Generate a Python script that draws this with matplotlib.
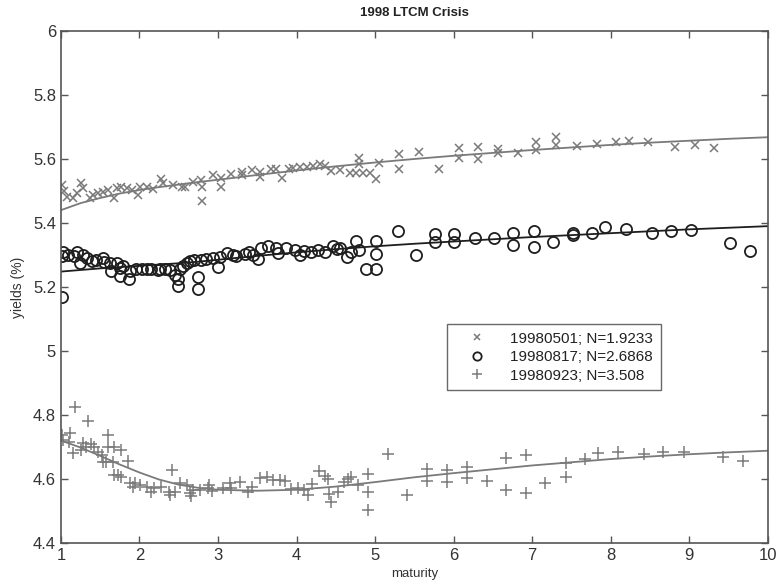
import matplotlib
matplotlib.use("Agg")
import matplotlib.pyplot as plt
from matplotlib.ticker import FormatStrFormatter, FixedLocator
import numpy as np

plt.rcParams['font.family'] = ['Liberation Sans', 'DejaVu Sans']

# observed yields (maturity, yield %)
pts_0501 = [
    (1.02, 5.519), (1.04, 5.500), (1.08, 5.482), (1.16, 5.477), (1.21, 5.493), (1.26, 5.526),
    (1.28, 5.508), (1.37, 5.477), (1.41, 5.488), (1.47, 5.493), (1.54, 5.498), (1.60, 5.503),
    (1.67, 5.477), (1.71, 5.508), (1.77, 5.513), (1.84, 5.508), (1.90, 5.503), (1.98, 5.488),
    (2.01, 5.513), (2.09, 5.513), (2.17, 5.505), (2.28, 5.536), (2.30, 5.524), (2.43, 5.519),
    (2.54, 5.513), (2.58, 5.513), (2.68, 5.529), (2.79, 5.534), (2.80, 5.513), (2.80, 5.469),
    (2.94, 5.550), (3.04, 5.539), (3.04, 5.513), (3.17, 5.553), (3.30, 5.560), (3.30, 5.550),
    (3.43, 5.565), (3.53, 5.544), (3.54, 5.560), (3.68, 5.570), (3.74, 5.568), (3.81, 5.539),
    (3.91, 5.570), (3.96, 5.571), (4.04, 5.574), (4.13, 5.574), (4.21, 5.577), (4.30, 5.584),
    (4.36, 5.579), (4.44, 5.563), (4.55, 5.565), (4.68, 5.555), (4.76, 5.555), (4.80, 5.602),
    (4.80, 5.583), (4.85, 5.555), (4.93, 5.555), (5.01, 5.536), (5.05, 5.586), (5.31, 5.615),
    (5.31, 5.570), (5.56, 5.622), (5.81, 5.570), (6.07, 5.633), (6.07, 5.602), (6.31, 5.636),
    (6.31, 5.600), (6.56, 5.630), (6.56, 5.618), (6.82, 5.620), (7.05, 5.653), (7.05, 5.628),
    (7.31, 5.669), (7.31, 5.643), (7.57, 5.641), (7.82, 5.646), (8.07, 5.653), (8.23, 5.655),
    (8.48, 5.653), (8.82, 5.638), (9.07, 5.645), (9.32, 5.634),
]
pts_0817 = [
    (1.01, 5.167), (1.02, 5.298), (1.03, 5.308), (1.09, 5.301), (1.17, 5.296), (1.20, 5.308),
    (1.24, 5.275), (1.28, 5.301), (1.33, 5.290), (1.39, 5.280), (1.45, 5.283), (1.53, 5.290),
    (1.55, 5.277), (1.62, 5.275), (1.64, 5.249), (1.71, 5.275), (1.75, 5.260), (1.75, 5.234),
    (1.79, 5.267), (1.87, 5.226), (1.88, 5.249), (1.95, 5.257), (2.03, 5.257), (2.09, 5.257),
    (2.15, 5.255), (2.24, 5.252), (2.26, 5.257), (2.32, 5.257), (2.39, 5.252), (2.45, 5.236),
    (2.49, 5.226), (2.49, 5.203), (2.51, 5.255), (2.56, 5.265), (2.60, 5.275), (2.64, 5.280),
    (2.70, 5.283), (2.75, 5.232), (2.75, 5.193), (2.79, 5.283), (2.85, 5.288), (2.94, 5.291),
    (3.00, 5.263), (3.03, 5.295), (3.11, 5.306), (3.19, 5.301), (3.23, 5.298), (3.34, 5.304),
    (3.40, 5.308), (3.45, 5.301), (3.51, 5.286), (3.55, 5.322), (3.64, 5.327), (3.74, 5.322),
    (3.76, 5.306), (3.87, 5.322), (3.98, 5.317), (4.04, 5.301), (4.10, 5.311), (4.19, 5.308),
    (4.27, 5.315), (4.36, 5.308), (4.46, 5.327), (4.51, 5.319), (4.55, 5.322), (4.64, 5.294),
    (4.70, 5.308), (4.76, 5.343), (4.80, 5.317), (4.88, 5.257), (5.01, 5.343), (5.01, 5.304),
    (5.01, 5.257), (5.29, 5.376), (5.52, 5.301), (5.76, 5.365), (5.76, 5.340), (6.01, 5.365),
    (6.01, 5.340), (6.27, 5.352), (6.52, 5.352), (6.76, 5.368), (6.76, 5.332), (7.02, 5.374),
    (7.02, 5.325), (7.26, 5.340), (7.52, 5.370), (7.52, 5.361), (7.76, 5.369), (7.93, 5.387),
    (8.19, 5.381), (8.53, 5.370), (8.77, 5.374), (9.02, 5.377), (9.52, 5.338), (9.77, 5.312),
]
pts_0923 = [
    (1.02, 4.738), (1.03, 4.722), (1.10, 4.716), (1.11, 4.745), (1.16, 4.682), (1.18, 4.825),
    (1.26, 4.690), (1.28, 4.712), (1.32, 4.700), (1.35, 4.780), (1.38, 4.710), (1.42, 4.700),
    (1.47, 4.685), (1.52, 4.675), (1.54, 4.654), (1.57, 4.654), (1.60, 4.737), (1.60, 4.700),
    (1.66, 4.654), (1.67, 4.700), (1.67, 4.612), (1.73, 4.612), (1.77, 4.690), (1.77, 4.605),
    (1.86, 4.657), (1.88, 4.587), (1.92, 4.576), (1.94, 4.587), (2.01, 4.581), (2.09, 4.576),
    (2.15, 4.560), (2.19, 4.570), (2.28, 4.576), (2.37, 4.560), (2.39, 4.550), (2.41, 4.628),
    (2.45, 4.560), (2.52, 4.586), (2.60, 4.581), (2.64, 4.555), (2.66, 4.545), (2.68, 4.565),
    (2.77, 4.566), (2.87, 4.571), (2.89, 4.580), (2.92, 4.563), (3.06, 4.571), (3.15, 4.587),
    (3.17, 4.570), (3.28, 4.591), (3.38, 4.560), (3.43, 4.575), (3.53, 4.602), (3.62, 4.607),
    (3.70, 4.595), (3.79, 4.597), (3.85, 4.593), (3.93, 4.568), (4.02, 4.571), (4.10, 4.566),
    (4.15, 4.550), (4.20, 4.584), (4.29, 4.626), (4.36, 4.609), (4.40, 4.600), (4.41, 4.553),
    (4.44, 4.529), (4.53, 4.560), (4.61, 4.591), (4.65, 4.600), (4.69, 4.606), (4.78, 4.581),
    (4.91, 4.616), (4.91, 4.560), (4.91, 4.503), (5.16, 4.677), (5.41, 4.550), (5.66, 4.630),
    (5.66, 4.592), (5.92, 4.628), (5.92, 4.590), (6.17, 4.637), (6.17, 4.602), (6.42, 4.594),
    (6.67, 4.665), (6.67, 4.566), (6.92, 4.675), (6.92, 4.557), (7.17, 4.588), (7.43, 4.649),
    (7.43, 4.607), (7.67, 4.662), (7.84, 4.680), (8.09, 4.685), (8.43, 4.678), (8.67, 4.683),
    (8.93, 4.685), (9.43, 4.668), (9.68, 4.656),
]

# fitted curves sampled on a maturity grid
fit_mat = [1, 1.25, 1.5, 1.75, 2, 2.25, 2.5, 2.75, 3, 3.5, 4, 4.5, 5, 5.5, 6, 6.5, 7, 7.5, 8, 8.5, 9, 9.5, 10]
fit_0501 = [5.440, 5.462, 5.478, 5.492, 5.503, 5.512, 5.520, 5.528, 5.535, 5.550, 5.564, 5.577, 5.589,
            5.600, 5.610, 5.619, 5.628, 5.636, 5.644, 5.651, 5.657, 5.663, 5.668]
fit_0817 = [5.248, 5.253, 5.258, 5.262, 5.266, 5.270, 5.274, 5.279, 5.285, 5.297, 5.308, 5.318, 5.327,
            5.335, 5.342, 5.349, 5.356, 5.362, 5.368, 5.374, 5.380, 5.385, 5.390]
fit_0923 = [4.720, 4.698, 4.672, 4.645, 4.620, 4.598, 4.582, 4.572, 4.566, 4.563, 4.566, 4.576, 4.590,
            4.605, 4.618, 4.630, 4.642, 4.652, 4.662, 4.670, 4.677, 4.683, 4.688]

labels = ['19980501; N=1.9233', '19980817; N=2.6868', '19980923; N=3.508']

gray = '#7a7a7a'
dark = '#1e1e1e'

fig = plt.figure(figsize=(7.81, 5.85), dpi=100)
ax = fig.add_axes([0.078, 0.072, 0.905, 0.875])

m1, y1 = zip(*pts_0501)
m2, y2 = zip(*pts_0817)
m3, y3 = zip(*pts_0923)

ax.plot(m1, y1, 'x', color=gray, ms=6, mew=1.1, label=labels[0])
ax.plot(m2, y2, 'o', mfc='none', mec=dark, ms=8, mew=1.3, label=labels[1])
ax.plot(m3, y3, '+', color=gray, ms=9, mew=1.1, label=labels[2])

ax.plot(fit_mat, fit_0501, '-', color=gray, lw=1.3)
ax.plot(fit_mat, fit_0817, '-', color=dark, lw=1.3)
ax.plot(fit_mat, fit_0923, '-', color=gray, lw=1.3)

ax.set_xlim(1, 10)
ax.set_ylim(4.4, 6)
ax.xaxis.set_major_locator(FixedLocator(np.arange(1, 11)))
ax.yaxis.set_major_locator(FixedLocator(np.round(np.arange(4.4, 6.01, 0.2), 1)))
ax.yaxis.set_major_formatter(FormatStrFormatter('%g'))
ax.tick_params(direction='in', top=True, right=True, length=5, width=1,
               color='#555555', labelsize=12, labelcolor='#333333')
for sp in ax.spines.values():
    sp.set_color('#555555')
    sp.set_linewidth(1.2)

ax.set_title('1998 LTCM Crisis', fontsize=9.5, fontweight='bold', color='#222222', pad=11)
ax.set_xlabel('maturity', fontsize=9.5, color='#333333', labelpad=4)
ax.set_ylabel('yields (%)', fontsize=10, color='#333333', labelpad=6)

leg = ax.legend(loc='lower left', bbox_to_anchor=(0.546, 0.298), fontsize=11, frameon=True,
                fancybox=False, edgecolor='#444444', borderpad=0.5, handlelength=3,
                handletextpad=0.65, labelspacing=0.3, borderaxespad=0, markerscale=0.75)
leg.get_frame().set_linewidth(1.0)
for t in leg.get_texts():
    t.set_color('#222222')

fig.savefig('out.png', dpi=100)
